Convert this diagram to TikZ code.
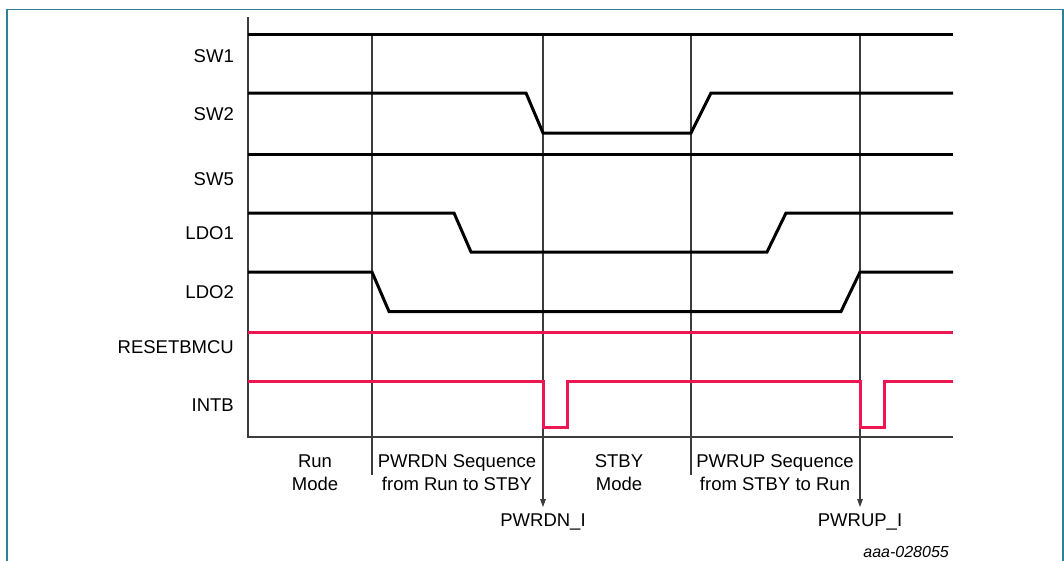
\documentclass[tikz,border=0pt]{standalone}
\usepackage{fontspec}
\setmainfont{Liberation Sans}
\usetikzlibrary{arrows.meta}
\definecolor{sigpink}{RGB}{236,22,82}
\definecolor{frameteal}{RGB}{45,130,150}
\definecolor{gridgray}{RGB}{60,60,60}
\begin{document}
\begin{tikzpicture}[x=1pt,y=-1pt,
  sig/.style={line width=3pt, line join=miter, black},
  pinksig/.style={line width=3pt, sigpink},
  mark line/.style={line width=1.1pt, gridgray},
  arrowline/.style={line width=1.1pt, gridgray, -{Triangle[length=8pt,width=5.5pt]}},
  axisline/.style={line width=1.8pt, gridgray},
  siglabel/.style={anchor=base east, inner sep=0pt, font=\fontsize{18.5}{23}\selectfont},
  phase/.style={anchor=base, align=center, inner sep=0pt, font=\fontsize{18.5}{23}\selectfont},
  evt/.style={anchor=base, inner xsep=0pt, inner ysep=6pt, font=\fontsize{18.5}{23}\selectfont},
  fig/.style={anchor=base east, inner sep=0pt, font=\fontsize{16}{18}\selectfont\itshape}]
\useasboundingbox (0,0) rectangle (1064,560);
\fill[white] (0,0) rectangle (1064,560);
\draw[frameteal, line width=1.3pt] (7,9.5) rectangle (1063,575);

% signal labels
\node[siglabel] (lsw1) at (234,62) {SW1};
\node[siglabel] (lsw2) at (234,120.5) {SW2};
\node[siglabel] (lsw5) at (234,185.5) {SW5};
\node[siglabel] (lldo1) at (234,239.5) {LDO1};
\node[siglabel] (lldo2) at (234,298) {LDO2};
\node[siglabel] (lrst) at (234,353.5) {RESETBMCU};
\node[siglabel] (lintb) at (234,411.5) {INTB};

% phase labels
\node[phase] (prun) at (315,490) {Run\\Mode};
\node[phase] (pdn) at (457,490) {PWRDN Sequence\\from Run to STBY};
\node[phase] (pstby) at (619,490) {STBY\\Mode};
\node[phase] (pup) at (775,490) {PWRUP Sequence\\from STBY to Run};

% event labels
\node[evt] (pwrdnI) at (543,526) {PWRDN\_I};
\node[evt] (pwrupI) at (860,526) {PWRUP\_I};
\node[fig] (figid) at (949,557) {aaa-028055};

% marker lines
\coordinate (m1t) at (372,34);
\coordinate (m1b) at (372,475);
\coordinate (m2t) at (543,34);
\coordinate (m3t) at (691,34);
\coordinate (m3b) at (691,475);
\coordinate (m4t) at (860,34);
\draw[mark line] (m1t) -- (m1b);
\draw[mark line] (m3t) -- (m3b);
\draw[arrowline] (m2t) -- (pwrdnI.north);
\draw[arrowline] (m4t) -- (pwrupI.north);

% axes
\coordinate (ytop) at (248,17);
\coordinate (orig) at (248,437);
\coordinate (xend) at (953,437);
\draw[axisline] (ytop) -- (orig) -- (xend);

% waveforms
\draw[sig] (248,34) -- (953,34);
\draw[sig] (248,93) -- (526,93) -- (543,133) -- (691,133) -- (711,93) -- (953,93);
\draw[sig] (248,154) -- (953,154);
\draw[sig] (248,213) -- (454,213) -- (471,252) -- (767,252) -- (786,213) -- (953,213);
\draw[sig] (248,272) -- (372,272) -- (389,311.5) -- (841,311.5) -- (860,272) -- (953,272);
\draw[pinksig] (248,332) -- (953,332);
\draw[pinksig] (248,381) -- (543,381) -- (543,427) -- (567,427) -- (567,381) -- (860,381) -- (860,427) -- (884,427) -- (884,381) -- (953,381);
\end{tikzpicture}
\end{document}
